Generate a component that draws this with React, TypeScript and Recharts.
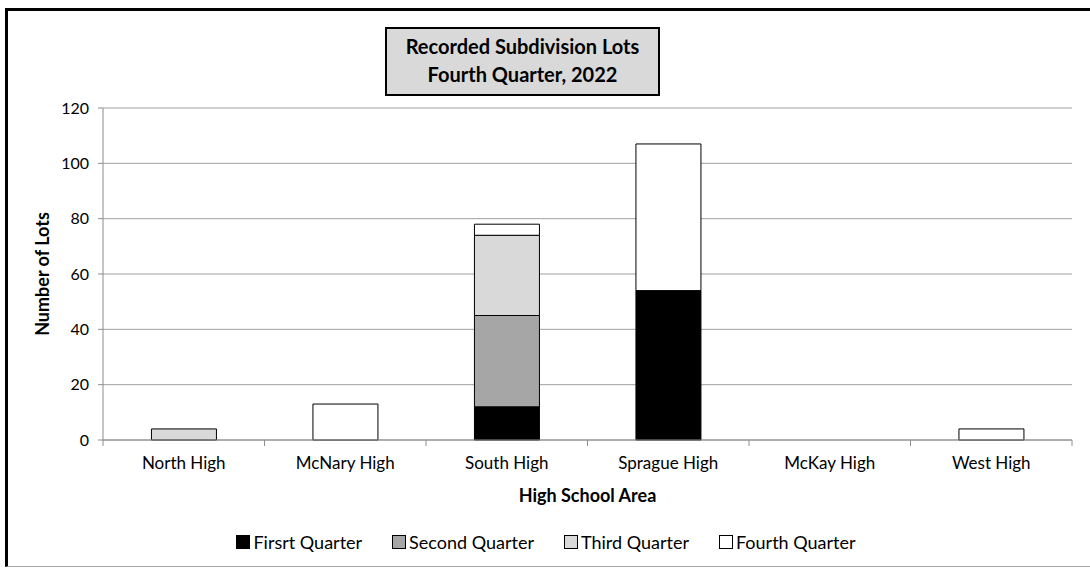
import React from "react";
import { Bar, BarChart, CartesianGrid, Legend, XAxis, YAxis } from "recharts";

const schools = ["North High", "McNary High", "South High", "Sprague High", "McKay High", "West High"];
const firstQuarter = [0, 0, 12, 54, 0, 0];
const secondQuarter = [0, 0, 33, 0, 0, 0];
const thirdQuarter = [4, 0, 29, 0, 0, 0];
const fourthQuarter = [0, 13, 4, 53, 0, 4];
const yTicks = [0, 20, 40, 60, 80, 100, 120];

const series = [
  { key: "q1", name: "Firsrt Quarter", color: "#000000" },
  { key: "q2", name: "Second Quarter", color: "#a6a6a6" },
  { key: "q3", name: "Third Quarter", color: "#d9d9d9" },
  { key: "q4", name: "Fourth Quarter", color: "#ffffff" },
];

const data = schools.map((school, i) => ({
  school,
  q1: firstQuarter[i],
  q2: secondQuarter[i],
  q3: thirdQuarter[i],
  q4: fourthQuarter[i],
}));

const FONT = "Lato, 'Open Sans', sans-serif";
const AXIS_GRAY = "#8c8c8c";

// Excel style: tick marks sit between categories, not under them
function SchoolTick(props: any) {
  const { x, y, payload, index, visibleTicksCount, width } = props;
  const half = payload.offset ?? width / visibleTicksCount / 2;
  return (
    <g>
      <line x1={x - half} x2={x - half} y1={y} y2={y + 6} stroke={AXIS_GRAY} />
      {index === visibleTicksCount - 1 && (
        <line x1={x + half} x2={x + half} y1={y} y2={y + 6} stroke={AXIS_GRAY} />
      )}
      <text x={x} y={y + 17} dy="0.71em" textAnchor="middle" fill="#000" fontSize={17} fontFamily={FONT}>
        {payload.value}
      </text>
    </g>
  );
}

function QuarterLegend() {
  return (
    <div
      style={{
        display: "flex",
        justifyContent: "center",
        gap: 30,
        fontFamily: FONT,
        fontSize: 18,
        color: "#000",
        lineHeight: "22px",
      }}
    >
      {series.map((s) => (
        <div key={s.key} style={{ display: "flex", alignItems: "center" }}>
          <span
            style={{
              display: "inline-block",
              width: 12,
              height: 12,
              background: s.color,
              border: "1px solid #000",
              marginRight: 3,
            }}
          />
          {s.name}
        </div>
      ))}
    </div>
  );
}

export default function App() {
  return (
    <div
      style={{
        position: "absolute",
        left: 0,
        top: 0,
        width: 1090,
        height: 569,
        overflow: "hidden",
        background: "#fff",
      }}
    >
      <div
        style={{
          position: "absolute",
          left: 5,
          top: 8,
          width: 1100,
          height: 555,
          borderLeft: "3px solid #000",
          borderTop: "3px solid #000",
          borderBottom: "1px solid #a6a6a6",
        }}
      />
      <BarChart
        width={1090}
        height={569}
        data={data}
        margin={{ top: 108, right: 18, bottom: 16, left: 20 }}
        barCategoryGap="30%"
        style={{ position: "absolute", left: 0, top: 0 }}
      >
        <CartesianGrid vertical={false} stroke="#a0a0a0" />
        <XAxis
          dataKey="school"
          height={91}
          tickSize={0}
          tickMargin={0}
          tickLine={false}
          axisLine={{ stroke: AXIS_GRAY }}
          tick={<SchoolTick />}
          label={{
            value: "High School Area",
            position: "insideBottom",
            offset: 29,
            style: { fontFamily: FONT, fontSize: 18, fontWeight: 700, fill: "#000" },
          }}
        />
        <YAxis
          width={83}
          domain={[0, 120]}
          ticks={yTicks}
          tickSize={5}
          tickMargin={9}
          tickLine={{ stroke: AXIS_GRAY }}
          axisLine={{ stroke: AXIS_GRAY }}
          tick={{ fill: "#000", fontSize: 16, fontFamily: FONT }}
          label={{
            value: "Number of Lots",
            angle: -90,
            position: "insideLeft",
            offset: 23,
            style: { textAnchor: "middle", fontFamily: FONT, fontSize: 18, fontWeight: 700, fill: "#000" },
          }}
        />
        <Legend verticalAlign="bottom" height={22} content={<QuarterLegend />} />
        {series.map((s) => (
          <Bar
            key={s.key}
            dataKey={s.key}
            name={s.name}
            stackId="lots"
            fill={s.color}
            stroke="#000"
            strokeWidth={1}
            isAnimationActive={false}
          />
        ))}
      </BarChart>
      <div
        style={{
          position: "absolute",
          left: 385,
          top: 27,
          width: 271,
          height: 62,
          background: "#d9d9d9",
          border: "2px solid #000",
          fontFamily: FONT,
          fontWeight: 700,
          fontSize: 20,
          lineHeight: "28px",
          textAlign: "center",
          paddingTop: 3,
        }}
      >
        Recorded Subdivision Lots
        <br />
        Fourth Quarter, 2022
      </div>
    </div>
  );
}
